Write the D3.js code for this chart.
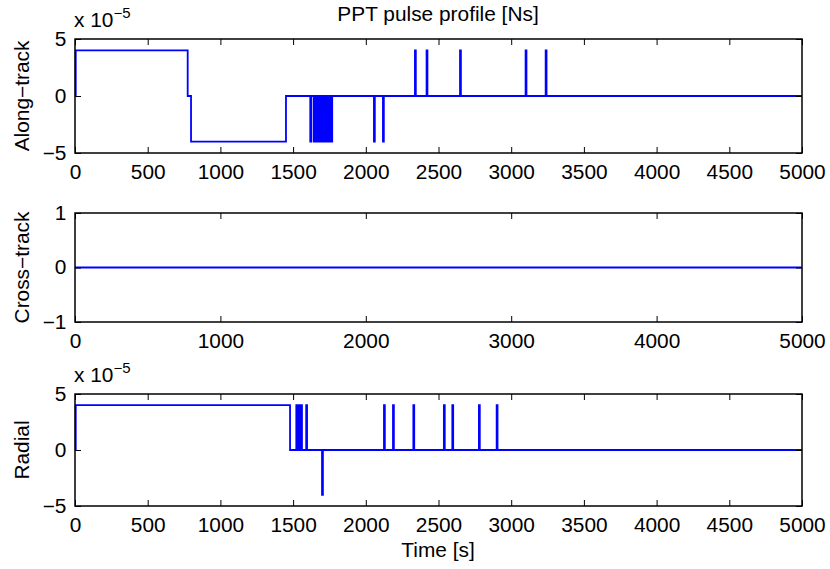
<!DOCTYPE html>
<html><head><meta charset="utf-8">
<script src="https://cdn.jsdelivr.net/npm/d3@7"></script>
<style>
body{margin:0;background:#fff;}
text{font-family:"Liberation Sans",Arial,Helvetica,sans-serif;fill:#000;}
</style></head>
<body><svg id="c" width="830" height="569"></svg>
<script>
// ---- data (time in s, impulse in Ns) ----
const timeDomain = [0, 5000];
const xTicksDense = [0,500,1000,1500,2000,2500,3000,3500,4000,4500,5000];
const xTicksSparse = [0,1000,2000,3000,4000,5000];
const yTicksPulse = [-5e-5, 0, 5e-5];
const yTicksCross = [-1, 0, 1];

// Along-track pulses: start, end, value
const alongStart = [5, 798, 1618, 1641, 1659, 1677, 1689, 1705, 1719, 1730, 1741, 1752, 1763, 2056, 2118, 2338, 2418, 2648, 3099, 3237];
const alongEnd   = [775, 1451, 1624, 1647, 1665, 1683, 1695, 1711, 1725, 1736, 1747, 1758, 1769, 2062, 2124, 2344, 2424, 2654, 3105, 3243];
const alongValue = [4e-5, -4e-5, -4e-5, -4e-5, -4e-5, -4e-5, -4e-5, -4e-5, -4e-5, -4e-5, -4e-5, -4e-5, -4e-5, -4e-5, -4e-5, 4e-5, 4e-5, 4e-5, 4e-5, 4e-5];

// Cross-track: no pulses
const crossStart = [];
const crossEnd   = [];
const crossValue = [];

// Radial pulses
const radialStart = [5, 1522, 1540, 1555, 1590, 1699, 2125, 2187, 2327, 2537, 2595, 2778, 2900];
const radialEnd   = [1479, 1528, 1546, 1561, 1596, 1705, 2131, 2193, 2333, 2543, 2601, 2784, 2906];
const radialValue = [4e-5, 4e-5, 4e-5, 4e-5, 4e-5, -4e-5, 4e-5, 4e-5, 4e-5, 4e-5, 4e-5, 4e-5, 4e-5];

const panels = [
  {label:"Along\u2212track", start:alongStart, end:alongEnd, value:alongValue, yDomain:[-5e-5,5e-5], yTicks:yTicksPulse, xTicks:xTicksDense, top:39, bottom:153, exp:true},
  {label:"Cross\u2212track", start:crossStart, end:crossEnd, value:crossValue, yDomain:[-1,1], yTicks:yTicksCross, xTicks:xTicksSparse, top:213, bottom:322, exp:false},
  {label:"Radial", start:radialStart, end:radialEnd, value:radialValue, yDomain:[-5e-5,5e-5], yTicks:yTicksPulse, xTicks:xTicksDense, top:394, bottom:506, exp:true}
];

const svg = d3.select("#c");
const L = 75, R = 802;
const FS = 19.5, SX = 1.07;
const x = d3.scaleLinear().domain(timeDomain).range([L, R]);
const fmtY = v => { const s = Math.abs(v) < 1e-3 && v !== 0 ? Math.round(v/1e-5) : v; return (s < 0 ? "\u2212" + Math.abs(s) : "" + s); };

panels.forEach(p => {
  const y = d3.scaleLinear().domain(p.yDomain).range([p.bottom, p.top]);
  const g = svg.append("g");
  const pts = [[timeDomain[0], 0]];
  p.start.forEach((s, i) => {
    pts.push([s, 0], [s, p.value[i]], [p.end[i], p.value[i]], [p.end[i], 0]);
  });
  pts.push([timeDomain[1], 0]);
  g.append("path").attr("d", d3.line().x(d => x(d[0])).y(d => y(d[1]))(pts))
    .attr("fill", "none").attr("stroke", "#0000ff").attr("stroke-width", 1.8).attr("stroke-linejoin","miter");

  const tk = 6;
  const ax = d3.axisBottom(x).tickValues(p.xTicks).tickSize(-tk).tickPadding(tk + 6).tickFormat(d => d);
  const gb = g.append("g").attr("transform", `translate(0,${p.bottom})`).call(ax);
  const at = d3.axisTop(x).tickValues(p.xTicks).tickSize(-tk).tickFormat("");
  const gt = g.append("g").attr("transform", `translate(0,${p.top})`).call(at);
  const ay = d3.axisLeft(y).tickValues(p.yTicks).tickSize(-tk).tickPadding(tk + 6).tickFormat(fmtY);
  const gl = g.append("g").attr("transform", `translate(${L},0)`).call(ay);
  const ar = d3.axisRight(y).tickValues(p.yTicks).tickSize(-tk).tickFormat("");
  const gr = g.append("g").attr("transform", `translate(${R},0)`).call(ar);
  [gb, gt, gl, gr].forEach(a => {
    a.select(".domain").remove();
    a.selectAll("line").attr("stroke", "#000").attr("stroke-width", 1);
    a.selectAll("text").attr("font-size", FS).attr("fill", "#000").style("font-family", '"Liberation Sans",Arial,sans-serif');
  });
  gb.selectAll("text").attr("dy", "0.71em").attr("transform", `scale(${SX},1)`);
  gl.selectAll("text").attr("x", -8).attr("transform", `scale(${SX},1)`);
  g.append("rect").attr("x", L).attr("y", p.top).attr("width", R - L).attr("height", p.bottom - p.top)
    .attr("fill", "none").attr("stroke", "#000").attr("stroke-width", 1.5);

  g.append("text").attr("transform", `translate(29,${(p.top + p.bottom)/2}) rotate(-90) scale(${SX},1)`)
    .attr("text-anchor", "middle").attr("font-size", FS).text(p.label);

  if (p.exp) {
    const t = g.append("text").attr("transform", `translate(${L - 1},${p.top - 12}) scale(${SX},1)`).attr("font-size", FS);
    t.append("tspan").text("x 10");
    t.append("tspan").attr("dy", -9).attr("font-size", 14).text("\u22125");
  }
});

svg.append("text").attr("transform", `translate(438,21) scale(${SX},1)`).attr("text-anchor", "middle").attr("font-size", FS).text("PPT pulse profile [Ns]");
svg.append("text").attr("transform", `translate(438,557) scale(${SX},1)`).attr("text-anchor", "middle").attr("font-size", FS).text("Time [s]");
</script></body></html>
